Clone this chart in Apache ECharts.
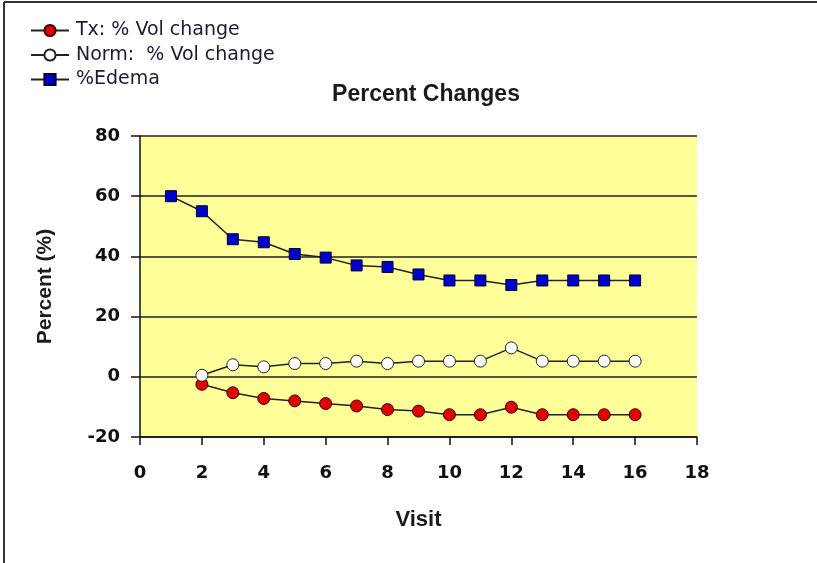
<!DOCTYPE html>
<html>
<head>
<meta charset="utf-8">
<script src="https://cdn.jsdelivr.net/npm/echarts@6/dist/echarts.min.js"></script>
<style>
  html, body { margin: 0; padding: 0; background: #ffffff; }
  #chart { width: 817px; height: 563px; }
</style>
</head>
<body>
<div id="chart"></div>
<script>
// Visit numbers and percent changes per series
const visits = [1, 2, 3, 4, 5, 6, 7, 8, 9, 10, 11, 12, 13, 14, 15, 16];
const txVolChange = [null, -2.5, -5.3, -7.2, -8, -8.9, -9.7, -10.9, -11.4, -12.6, -12.6, -10.1, -12.6, -12.6, -12.6, -12.6];
const normVolChange = [null, 0.5, 4, 3.3, 4.4, 4.4, 5.2, 4.4, 5.2, 5.2, 5.2, 9.6, 5.2, 5.2, 5.2, 5.2];
const edema = [60, 55, 45.7, 44.7, 40.8, 39.6, 37, 36.5, 34, 32, 32, 30.5, 32, 32, 32, 32];

const seriesNames = ['Tx: % Vol change', 'Norm:  % Vol change', '%Edema'];
const xTicks = { min: 0, max: 18, step: 2 };
const yTicks = { min: -20, max: 80, step: 20 };

function pairs(values) {
  return visits.map((v, i) => [v, values[i]]).filter(p => p[1] !== null);
}

const chart = echarts.init(document.getElementById('chart'), null, { renderer: 'canvas' });

const lineStyle = { color: '#222222', width: 1.5 };
const tickFont = { fontFamily: 'DejaVu Sans', fontWeight: 'bold', fontSize: 18, color: '#111111' };

chart.setOption({
  animation: false,
  backgroundColor: '#ffffff',
  title: {
    text: 'Percent Changes',
    left: 421,
    top: 78,
    textAlign: 'center',
    textStyle: { fontFamily: 'Liberation Sans', fontWeight: 'bold', fontSize: 23, color: '#1a1a1a' }
  },
  legend: {
    orient: 'vertical',
    left: 25,
    top: 16,
    itemWidth: 38,
    itemHeight: 14,
    itemGap: 5.5,
    data: seriesNames,
    textStyle: { fontFamily: 'DejaVu Sans', fontSize: 19, color: '#1a1a33', padding: [0, 0, 0, 2] }
  },
  grid: {
    left: 140,
    right: 120,
    top: 136,
    bottom: 126,
    show: true,
    backgroundColor: '#ffff99',
    borderWidth: 0
  },
  xAxis: {
    type: 'value',
    min: xTicks.min,
    max: xTicks.max,
    interval: xTicks.step,
    name: 'Visit',
    nameLocation: 'middle',
    nameGap: 72,
    nameTextStyle: { fontFamily: 'Liberation Sans', fontWeight: 'bold', fontSize: 22, color: '#1a1a1a' },
    axisLine: { onZero: false, lineStyle: { color: '#111111', width: 1.5 } },
    axisTick: { show: true, inside: false, length: 8, lineStyle: { color: '#111111', width: 1.5 } },
    axisLabel: Object.assign({ margin: 27 }, tickFont),
    splitLine: { show: false }
  },
  yAxis: {
    type: 'value',
    min: yTicks.min,
    max: yTicks.max,
    interval: yTicks.step,
    name: 'Percent (%)',
    nameLocation: 'middle',
    nameGap: 84,
    nameTextStyle: { fontFamily: 'Liberation Sans', fontWeight: 'bold', fontSize: 21, color: '#1a1a1a' },
    axisLine: { show: true, lineStyle: { color: '#111111', width: 1.5 } },
    axisTick: { show: true, inside: false, length: 9, lineStyle: { color: '#111111', width: 1.5 } },
    axisLabel: Object.assign({ margin: 20 }, tickFont),
    splitLine: { show: true, lineStyle: { color: '#222222', width: 1.5 } }
  },
  graphic: [
    { type: 'line', shape: { x1: 4, y1: 2, x2: 4, y2: 563 }, style: { stroke: '#333333', lineWidth: 2 } },
    { type: 'line', shape: { x1: 4, y1: 2, x2: 817, y2: 2 }, style: { stroke: '#333333', lineWidth: 2 } }
  ],
  series: [
    {
      name: seriesNames[0],
      type: 'line',
      data: pairs(txVolChange),
      symbol: 'circle',
      symbolSize: 12,
      lineStyle: lineStyle,
      itemStyle: { color: '#e00000', borderColor: '#3a0000', borderWidth: 1 },
      z: 3
    },
    {
      name: seriesNames[1],
      type: 'line',
      data: pairs(normVolChange),
      symbol: 'circle',
      symbolSize: 12,
      lineStyle: lineStyle,
      itemStyle: { color: '#ffffff', borderColor: '#222222', borderWidth: 1 },
      z: 3
    },
    {
      name: seriesNames[2],
      type: 'line',
      data: pairs(edema),
      symbol: 'rect',
      symbolSize: 11,
      lineStyle: lineStyle,
      itemStyle: { color: '#0000cc', borderColor: '#000033', borderWidth: 1 },
      z: 3
    }
  ]
});
</script>
</body>
</html>
